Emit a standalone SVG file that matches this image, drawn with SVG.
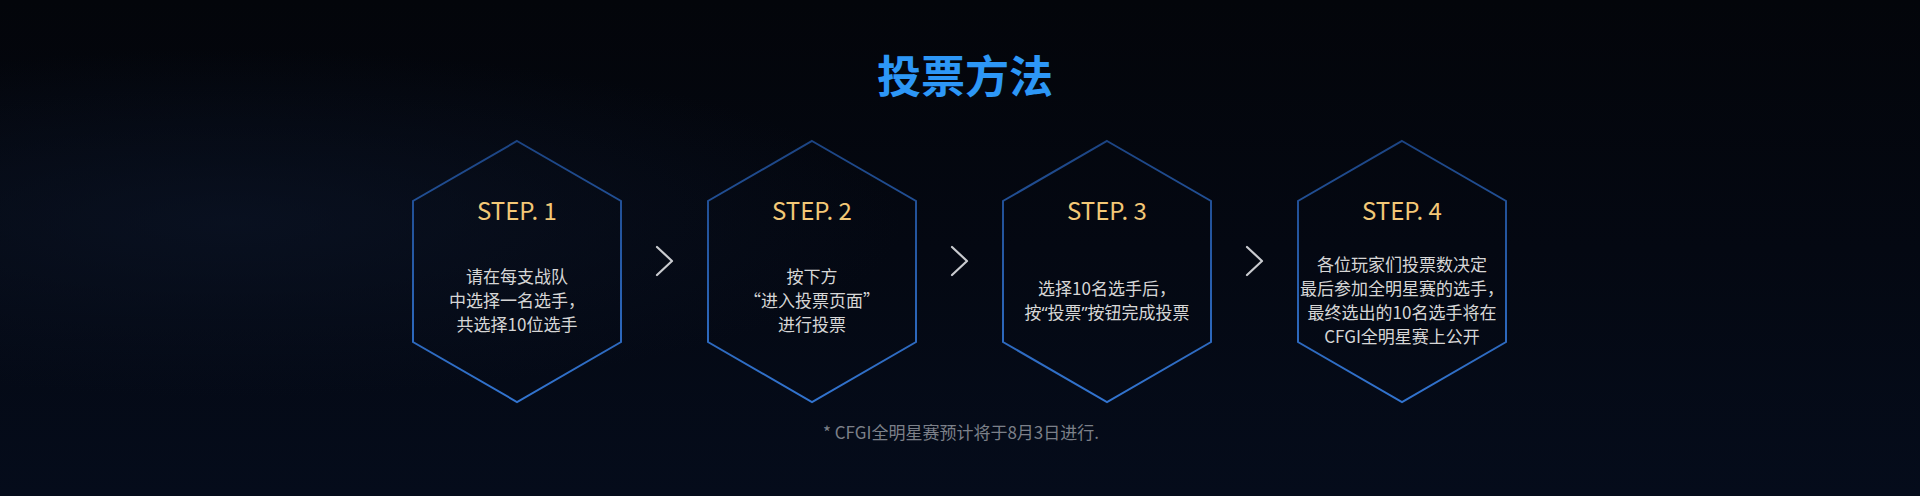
<svg xmlns="http://www.w3.org/2000/svg" width="1920" height="496" viewBox="0 0 1920 496">
  <defs>
    <linearGradient id="bg" x1="0" y1="0" x2="0" y2="1">
      <stop offset="0" stop-color="#03050a"/>
      <stop offset="0.5" stop-color="#040812"/>
      <stop offset="1" stop-color="#050c1b"/>
    </linearGradient>
    <radialGradient id="glowL" cx="0.12" cy="0.45" r="0.35">
      <stop offset="0" stop-color="#0b1426" stop-opacity="0.7"/>
      <stop offset="1" stop-color="#0b1426" stop-opacity="0"/>
    </radialGradient>
    <linearGradient id="hexStroke" x1="0" y1="0" x2="0" y2="1">
      <stop offset="0" stop-color="#1c4483"/>
      <stop offset="1" stop-color="#3274d0"/>
    </linearGradient>
    <style>
      .hex { fill: none; stroke: url(#hexStroke); stroke-width: 2; }
      .step { font-family: "Noto Sans CJK SC", "Noto Sans", sans-serif; font-size: 24px; fill: #f3c877; text-anchor: middle; }
      .body { font-family: "Noto Sans CJK SC", "Noto Sans", sans-serif; font-size: 17px; fill: #d6d6d6; text-anchor: middle; }
      .q { font-family: "Noto Sans", sans-serif; }
      .chev { fill: none; stroke: #c9cbcf; stroke-width: 2.2; stroke-linecap: round; stroke-linejoin: round; }
      .title { font-family: "Noto Sans CJK SC", sans-serif; font-size: 44px; font-weight: bold; fill: #2d97f6; text-anchor: middle; }
      .note { font-family: "Noto Sans CJK SC", "Noto Sans", sans-serif; font-size: 17px; fill: #7c8089; text-anchor: middle; }
    </style>
  </defs>
  <rect width="1920" height="496" fill="url(#bg)"/>
  <rect width="1920" height="496" fill="url(#glowL)"/>

  <text class="title" x="965" y="93">投票方法</text>

  <g id="step1">
    <polygon class="hex" points="517,141 621,201 621,342 517,402 413,342 413,201"/>
    <text class="step" x="517" y="220">STEP. 1</text>
    <text class="body" x="517" y="283">请在每支战队</text>
    <text class="body" x="517" y="307">中选择一名选手，</text>
    <text class="body" x="517" y="331">共选择10位选手</text>
  </g>
  <g id="step2">
    <polygon class="hex" points="812,141 916,201 916,342 812,402 708,342 708,201"/>
    <text class="step" x="812" y="220">STEP. 2</text>
    <text class="body" x="812" y="283">按下方</text>
    <text class="body" x="812" y="307">“进入投票页面”</text>
    <text class="body" x="812" y="331">进行投票</text>
  </g>
  <g id="step3">
    <polygon class="hex" points="1107,141 1211,201 1211,342 1107,402 1003,342 1003,201"/>
    <text class="step" x="1107" y="220">STEP. 3</text>
    <text class="body" x="1107" y="295">选择10名选手后，</text>
    <text class="body" x="1107" y="319">按<tspan class="q">“</tspan>投票<tspan class="q">”</tspan>按钮完成投票</text>
  </g>
  <g id="step4">
    <polygon class="hex" points="1402,141 1506,201 1506,342 1402,402 1298,342 1298,201"/>
    <text class="step" x="1402" y="220">STEP. 4</text>
    <text class="body" x="1402" y="271">各位玩家们投票数决定</text>
    <text class="body" x="1402" y="295">最后参加全明星赛的选手，</text>
    <text class="body" x="1402" y="319">最终选出的10名选手将在</text>
    <text class="body" x="1402" y="343">CFGI全明星赛上公开</text>
  </g>

  <g id="connectors">
    <polyline class="chev" points="657,247 672,261 657,275"/>
    <polyline class="chev" points="952,247 967,261 952,275"/>
    <polyline class="chev" points="1247,247 1262,261 1247,275"/>
  </g>

  <text class="note" x="961" y="439">* CFGI全明星赛预计将于8月3日进行.</text>
</svg>
